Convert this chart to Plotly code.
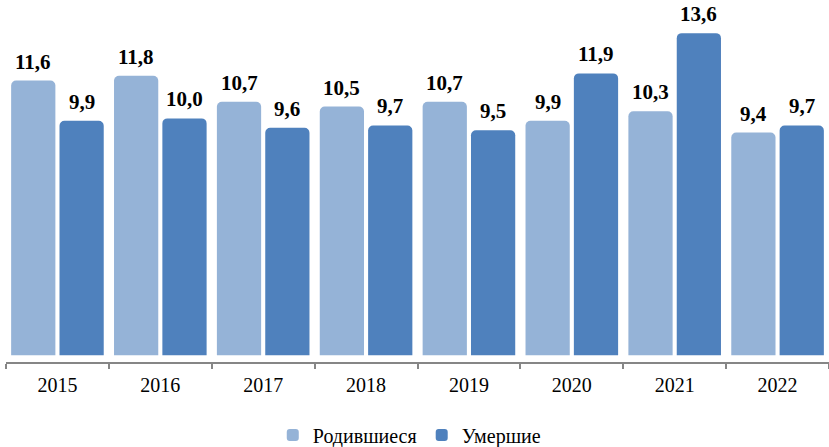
import plotly.graph_objects as go

years = ["2015", "2016", "2017", "2018", "2019", "2020", "2021", "2022"]
born = [11.6, 11.8, 10.7, 10.5, 10.7, 9.9, 10.3, 9.4]
died = [9.9, 10.0, 9.6, 9.7, 9.5, 11.9, 13.6, 9.7]
names = ["Родившиеся", "Умершие"]
colors = ["#95B3D7", "#4F81BD"]

FONT = "Liberation Serif, Times New Roman, serif"
W = 0.43
offsets = [-0.45, 0.02]
Y0, Y1 = -0.29, 15.0

def fmt(v):
    return f"{v:.1f}".replace(".", ",")

fig = go.Figure()
annotations = []
for series, name, color, off in zip([born, died], names, colors, offsets):
    fig.add_trace(go.Bar(
        x=years, y=series, name=name,
        width=W, offset=off,
        marker=dict(color=color, cornerradius=5, line=dict(width=0)),
    ))
    for i, v in enumerate(series):
        annotations.append(dict(
            x=i + off + W / 2, y=v, xref="x", yref="y",
            text="<b>" + fmt(v) + "</b>", showarrow=False,
            yanchor="bottom", yshift=5,
            font=dict(family=FONT, size=21, color="#000000"),
        ))

fig.update_layout(
    width=829, height=447,
    margin=dict(l=6, r=0, t=0, b=85, autoexpand=False),
    paper_bgcolor="white", plot_bgcolor="white",
    barmode="group",
    showlegend=True,
    legend=dict(orientation="h", x=0.49, xanchor="center", y=-0.202, yanchor="middle",
                font=dict(family=FONT, size=20, color="#000000"),
                itemwidth=30, traceorder="normal"),
    annotations=annotations,
    xaxis=dict(
        type="category", categoryorder="array", categoryarray=years,
        range=[-0.5, len(years) - 0.5],
        showline=True, linecolor="#868686", linewidth=1.5,
        ticks="outside", tickson="boundaries", ticklen=5, tickwidth=1.5, tickcolor="#868686",
        ticklabelstandoff=4,
        showgrid=False, zeroline=False, automargin=False,
        tickfont=dict(family=FONT, size=20, color="#000000"),
    ),
    yaxis=dict(range=[Y0, Y1], visible=False, showgrid=False, zeroline=False),
)

fig.write_html("out.html", config={"displayModeBar": False},
               post_script="document.body.style.margin='0';document.body.style.padding='0';")
